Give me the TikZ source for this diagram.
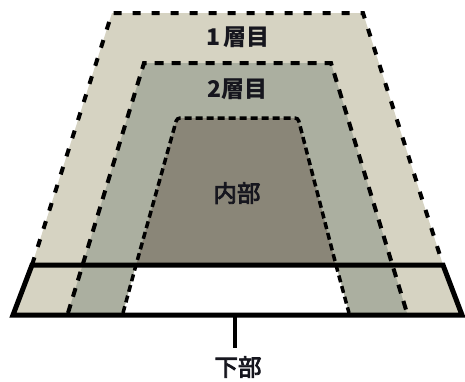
\documentclass[tikz,border=0pt]{standalone}
\usepackage{fontspec}
\newfontfamily\jp{Noto Sans CJK JP}
\newfontfamily\jpm[FakeBold=3.5]{Noto Sans CJK JP}
\definecolor{layerone}{RGB}{214,211,194}
\definecolor{layertwo}{RGB}{171,175,160}
\definecolor{innerc}{RGB}{138,134,120}
\definecolor{inkc}{RGB}{22,22,30}
\tikzset{
  dashone/.style={draw=black, line width=4pt, dash pattern=on 8pt off 11pt},
  dashtwo/.style={draw=black, line width=4pt, dash pattern=on 9pt off 8pt},
  dashin/.style={draw=black, line width=3.5pt, dash pattern=on 7pt off 4pt},
  bandline/.style={draw=black, line width=5pt, line join=miter},
  lbl/.style={font=\jp\bfseries\fontsize{23}{25}\selectfont, text=inkc, inner sep=0pt},
  lblm/.style={font=\jpm\fontsize{23.5}{25}\selectfont, text=inkc, inner sep=0pt}
}
\begin{document}
\begin{tikzpicture}[x=1pt,y=-1pt]
\useasboundingbox (0,0) rectangle (465,381);
\fill[white] (0,0) rectangle (465,381);
% outer layer
\coordinate (o1) at (112,13);
\coordinate (o2) at (363,13);
\coordinate (o3) at (443,265);
\coordinate (o4) at (32,265);
\coordinate (b3) at (462,315);
\coordinate (b4) at (13,315);
\fill[layerone] (o4) -- (o1) -- (o2) -- (o3) -- (b3) -- (b4) -- cycle;
\draw[dashone] (o4) -- (o1) -- (o2) -- (o3);
% second layer
\coordinate (m1) at (144,63);
\coordinate (m2) at (331,63);
\coordinate (m3) at (407,313);
\coordinate (m4) at (68,313);
\fill[layertwo] (m4) -- (m1) -- (m2) -- (m3) -- cycle;
\draw[dashtwo] (m4) -- (m1) -- (m2) -- (m3);
% inner
\coordinate (i1) at (177,118);
\coordinate (i2) at (298,118);
\coordinate (i3) at (336,265);
\coordinate (i4) at (136,265);
\coordinate (i5) at (349,313);
\coordinate (i6) at (123,313);
\fill[innerc, rounded corners=3pt] (i4) -- (i1) -- (i2) -- (i3) -- cycle;
\fill[white] (i4) -- (i3) -- (i5) -- (i6) -- cycle;
\draw[dashin, rounded corners=3pt] (i6) -- (i4) -- (i1) -- (i2) -- (i3) -- (i5);
% band
\draw[bandline] (o4) -- (o3) -- (b3) -- (b4) -- cycle;
% stem
\coordinate (s1) at (235,315);
\coordinate (s2) at (235,348);
\draw[line width=4.5pt, draw=black] (s1) -- (s2);
% labels
\node[lbl] (t1) at (238,37) {1\,層目};
\node[lbl] (t2) at (237,89) {2層目};
\node[lblm] (t3) at (237,193) {内部};
\node[lblm] (t4) at (238,367) {下部};
\end{tikzpicture}
\end{document}
